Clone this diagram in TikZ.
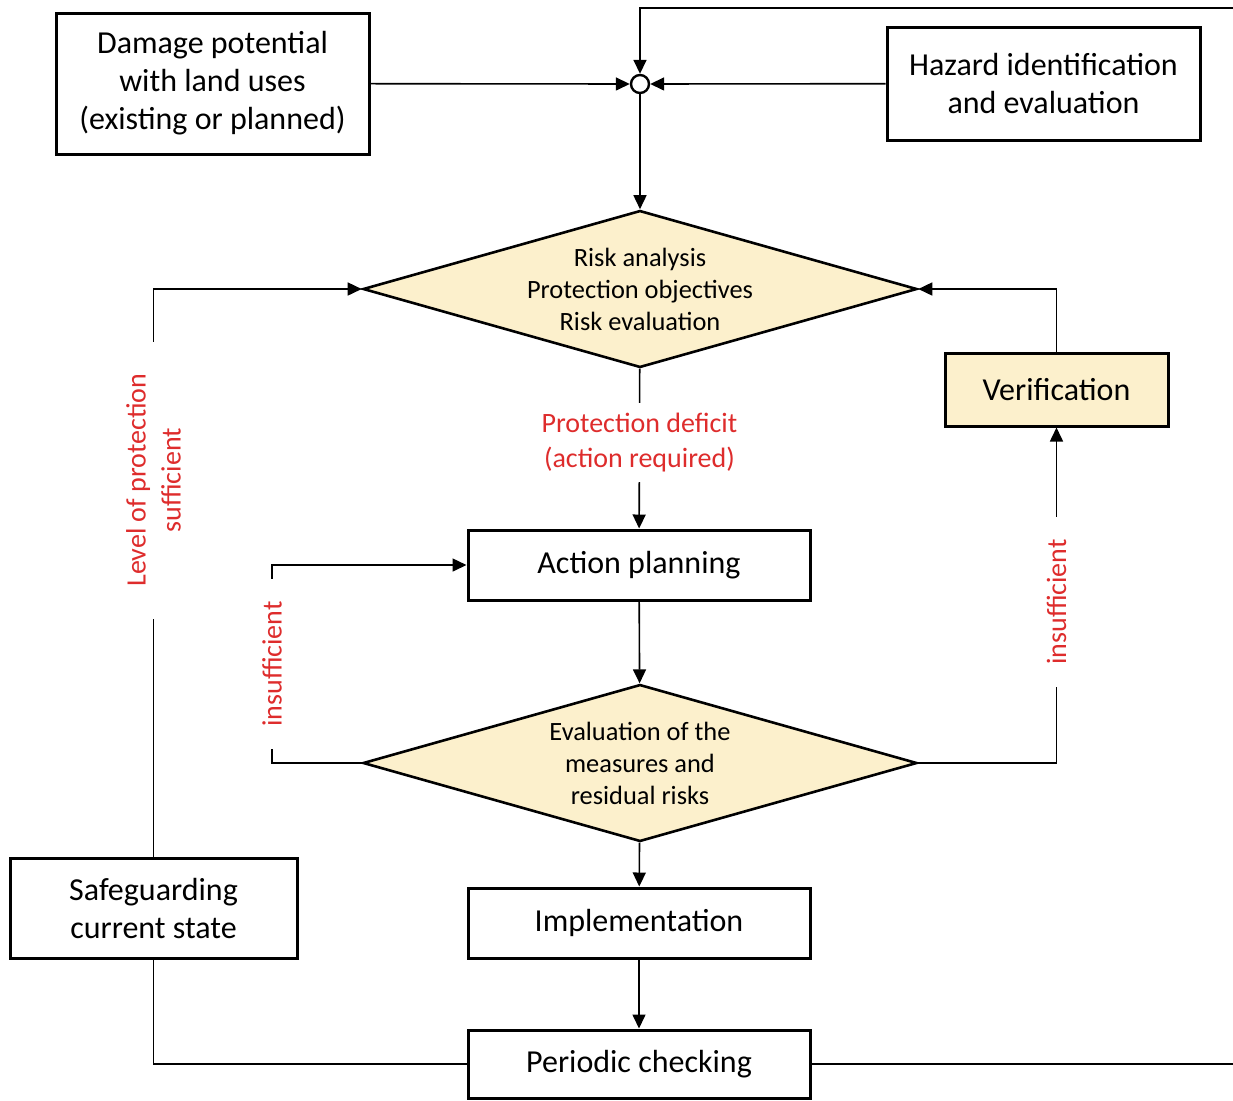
\documentclass[tikz,border=0pt]{standalone}
\usepackage{fontspec}
\setmainfont{Carlito}
\usetikzlibrary{arrows.meta, shapes.geometric, calc}
\definecolor{paleyellow}{RGB}{252,240,204}
\definecolor{notered}{RGB}{222,44,44}

\begin{document}
\begin{tikzpicture}[x=0.5pt, y=-0.5pt,
    boxstyle/.style={draw, line width=1.5pt, align=center, inner sep=0pt, font=\fontsize{16}{19}\selectfont},
    decisionstyle/.style={diamond, draw, line width=1.3pt, fill=paleyellow, inner sep=0pt, minimum width=277pt, minimum height=78.5pt},
    decisiontext/.style={align=center, inner sep=0pt, font=\fontsize{13.2}{16}\selectfont},
    pathstyle/.style={line width=0.8pt},
    arrowstyle/.style={pathstyle, -{Triangle[length=7pt, width=6.5pt]}},
    notestyle/.style={text=notered, fill=white, align=center, font=\fontsize{14}{17.5}\selectfont},
    junction/.style={circle, draw, line width=1.2pt, fill=white, minimum size=9pt, inner sep=0pt}]
  \useasboundingbox (0,0) rectangle (1233,1100);

  % inputs
  \node[boxstyle, minimum width=156.5pt, minimum height=70.5pt] (damage) at (212.5,83.5) {Damage potential\\with land uses\\(existing or planned)};
  \node[boxstyle, minimum width=156.5pt, minimum height=56.5pt] (hazard) at (1043.5,83.5) {Hazard identification\\and evaluation};
  \node[junction] (junc) at (640,84) {};

  % main flow
  \node[decisionstyle, label={[decisiontext]center:Risk analysis\\Protection objectives\\Risk evaluation}] (risk) at (640,289) {};
  \node[boxstyle, minimum width=171pt, minimum height=35pt] (action) at (639,565) {Action planning};
  \node[decisionstyle, label={[decisiontext]center:Evaluation of the\\measures and\\residual risks}] (eval) at (640,763) {};
  \node[boxstyle, minimum width=171pt, minimum height=35pt] (impl) at (639,923) {Implementation};
  \node[boxstyle, minimum width=171pt, minimum height=34pt] (periodic) at (639,1064) {Periodic checking};

  % side boxes
  \node[boxstyle, fill=paleyellow, minimum width=111.5pt, minimum height=36.5pt] (verif) at (1056.5,389.5) {Verification};
  \node[boxstyle, minimum width=143.5pt, minimum height=50pt] (safe) at (153.5,908) {Safeguarding\\current state};

  \coordinate (topright) at (1242,8);
  \coordinate (lvl) at (153.5,289);
  \coordinate (insL) at (272,565);

  \draw[arrowstyle] (damage) -- (junc);
  \draw[arrowstyle] (hazard) -- (junc);
  \draw[arrowstyle] (periodic) -- (periodic -| topright) -- (topright) -| (junc);
  \draw[arrowstyle] (junc) -- (risk);
  \draw[arrowstyle] (risk) -- node[pos=0.46, notestyle, inner ysep=5pt] {Protection deficit\\(action required)} (action);
  \draw[arrowstyle] (action) -- (eval);
  \draw[arrowstyle] (eval) -- (impl);
  \draw[arrowstyle] (impl) -- (periodic);

  % feedback loops
  \draw[arrowstyle] (safe) -- node[pos=0.663, notestyle, rotate=90, inner xsep=16pt] {Level of protection\\sufficient} (lvl) -- (risk.west);
  \draw[pathstyle] (safe) |- (periodic);
  \draw[arrowstyle] (eval.west) -| node[pos=0.75, notestyle, rotate=90, inner xsep=11pt] {insufficient} (insL) -- (action.west);
  \draw[arrowstyle] (eval.east) -| node[pos=0.74, notestyle, rotate=90, inner xsep=11pt] {insufficient} (verif.south);
  \draw[arrowstyle] (verif.north) |- (risk.east);
\end{tikzpicture}
\end{document}
